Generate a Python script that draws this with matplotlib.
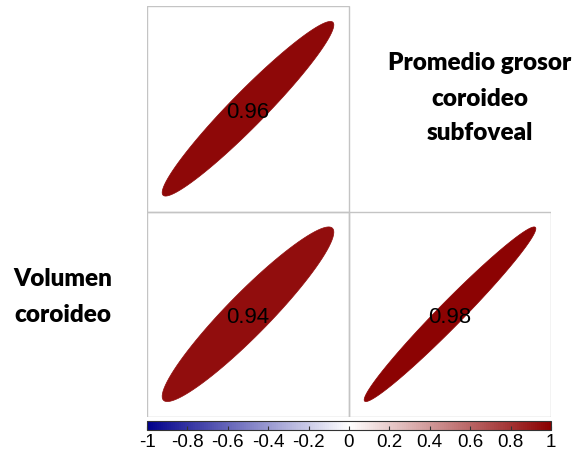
import numpy as np
import matplotlib
matplotlib.use("Agg")
import matplotlib.pyplot as plt
from matplotlib.colors import LinearSegmentedColormap, Normalize
from matplotlib.patches import Polygon, Rectangle
from matplotlib.cm import ScalarMappable

plt.rcParams["axes.unicode_minus"] = False

# Correlation cells of the lower triangle: (column, row from bottom, value)
cell_cols = [0, 0, 1]
cell_rows = [1, 0, 0]
cell_values = [0.96, 0.94, 0.98]

# Variable labels
row_label = ["Volumen", "coroideo"]
diag_label = ["Promedio grosor", "coroideo", "subfoveal"]

# Colour bar ticks
cbar_ticks = [-1, -0.8, -0.6, -0.4, -0.2, 0, 0.2, 0.4, 0.6, 0.8, 1]
cbar_ticklabels = ["-1", "-0.8", "-0.6", "-0.4", "-0.2", "0", "0.2", "0.4", "0.6", "0.8", "1"]

W, H = 576, 452
fig = plt.figure(figsize=(W / 100, H / 100), dpi=100)

def fx(px):
    return px / W

def fy(py):
    return 1 - py / H

cmap = LinearSegmentedColormap.from_list("corr", ["#00008B", "#FFFFFF", "#8B0000"], N=200)
norm = Normalize(-1, 1)

# Grid of cells
left, right, top, bottom = 147, 551, 7, 418
ax = fig.add_axes([fx(left), fy(bottom), fx(right) - fx(left), fy(top) - fy(bottom)])
ax.set_xlim(0, 2)
ax.set_ylim(0, 2)
ax.axis("off")

k = np.linspace(0, 2 * np.pi, 99)
for c, r, v in zip(cell_cols, cell_rows, cell_values):
    ax.add_patch(Rectangle((c, r), 1, 1, facecolor="none", edgecolor="#c4c4c4", lw=1.0, zorder=1))
    a = np.arccos(v) / 2
    ex = c + 0.5 + 0.85 * np.cos(k + a) / 2
    ey = r + 0.5 + 0.85 * np.cos(k - a) / 2
    col = cmap(norm(v))
    ax.add_patch(Polygon(np.column_stack([ex, ey]), closed=True, facecolor=col,
                         edgecolor=col, lw=0.5, zorder=2))
    ax.text(c + 0.5, r + 0.5, f"{v:.2f}", ha="center", va="center_baseline", fontsize=16,
            family="Liberation Sans", color="black", zorder=3)

# Bold variable labels
for txt, yb in zip(diag_label, [70, 106, 140]):
    fig.text(fx(480), fy(yb), txt, ha="center", va="baseline", fontsize=17.5,
             family="Lato", fontweight="heavy")
for txt, yb in zip(row_label, [286, 322]):
    fig.text(fx(63), fy(yb), txt, ha="center", va="baseline", fontsize=17.5,
             family="Lato", fontweight="heavy")

# Colour bar
cax = fig.add_axes([fx(147), fy(431), fx(551) - fx(147), fy(422) - fy(431)])
cb = fig.colorbar(ScalarMappable(norm=norm, cmap=cmap), cax=cax, orientation="horizontal")
cb.set_ticks(cbar_ticks)
cb.set_ticklabels(cbar_ticklabels)
cb.outline.set_linewidth(0.8)
cb.outline.set_edgecolor("#333333")
cax.tick_params(axis="x", direction="in", length=3, width=0.8, color="#333333",
                labelsize=13.5, pad=2)
for lbl in cax.get_xticklabels():
    lbl.set_family("Liberation Sans")

fig.savefig("out.png", dpi=100)
